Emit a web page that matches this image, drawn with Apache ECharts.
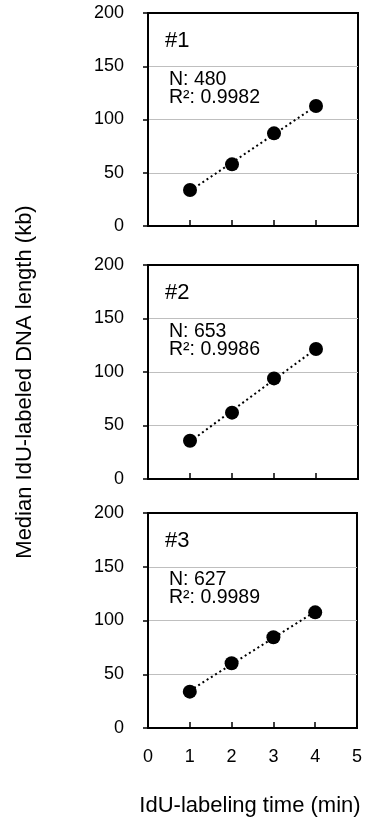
<!DOCTYPE html>
<html>
<head>
<meta charset="utf-8">
<script src="https://cdn.jsdelivr.net/npm/echarts@6/dist/echarts.min.js"></script>
<style>
  html, body { margin: 0; padding: 0; background: #fff; }
  #echarts_container { width: 365px; height: 823px; }
</style>
</head>
<body>
<div id="echarts_container"></div>
<script>
var chartDom = document.getElementById('echarts_container');
var myChart = echarts.init(chartDom);
var option;

// labeling time (min)
let times = [1, 2, 3, 4]
// median lengths (kb)
let exp1 = [33.8, 57.9, 87, 112.7]
let exp2 = [35.8, 62, 94, 121.5]
let exp3 = [33.8, 60.2, 84.4, 107.6]
// dotted trend line ends (x=1 and x=4)
let trendX = [1, 4]
let trend1 = [33, 112.7]
let trend2 = [34.9, 121.7]
let trend3 = [34.7, 108.3]
let panelNames = ['#1', '#2', '#3']
let nText = ['N: 480', 'N: 653', 'N: 627']
let rText = ['R²: 0.9982', 'R²: 0.9986', 'R²: 0.9989']

const FONT = '"Liberation Sans", Arial, sans-serif'
const tops = [13, 265, 513]
const heights = [213, 214, 215]

const pairs = (xs, ys) => xs.map((x, i) => [x, ys[i]])

let grids = [], xAxes = [], yAxes = [], series = [], texts = []
let allData = [exp1, exp2, exp3]
let allTrend = [trend1, trend2, trend3]

tops.forEach((top, i) => {
    grids.push({
        left: 148, width: 210, top: top, height: heights[i],
        show: true, borderColor: '#000', borderWidth: 2, backgroundColor: 'transparent'
    })
    xAxes.push({
        gridIndex: i, type: 'value', min: 0, max: 5, interval: 1,
        axisLine: { show: true, lineStyle: { color: '#000', width: 2 } },
        axisTick: { show: true, inside: true, length: 6, lineStyle: { color: '#000', width: 1.5 } },
        axisLabel: { show: i == 2, color: '#000', fontSize: 18, fontFamily: FONT, margin: 20 },
        splitLine: { show: false }
    })
    yAxes.push({
        gridIndex: i, type: 'value', min: 0, max: 200, interval: 50,
        axisLine: { show: true, lineStyle: { color: '#000', width: 2 } },
        axisTick: { show: true, inside: false, length: 5, lineStyle: { color: '#000', width: 1.5 } },
        axisLabel: { color: '#000', fontSize: 18, fontFamily: FONT, margin: 24 },
        splitLine: { show: true, showMinLine: false, showMaxLine: false, lineStyle: { color: '#bfbfbf', width: 1 } }
    })
    series.push({
        type: 'line', xAxisIndex: i, yAxisIndex: i,
        data: pairs(trendX, allTrend[i]),
        symbol: 'none', z: 2,
        lineStyle: { color: '#000', width: 2, type: [2, 3] }
    })
    series.push({
        type: 'scatter', xAxisIndex: i, yAxisIndex: i,
        data: pairs(times, allData[i]),
        symbol: 'circle', symbolSize: 14, z: 3,
        itemStyle: { color: '#000', opacity: 1 }
    })
    texts.push({
        type: 'text', left: 165, top: top + 17,
        style: { text: panelNames[i], fill: '#000', font: '22px ' + FONT }
    })
    texts.push({
        type: 'text', left: 169, top: top + 57,
        style: { text: nText[i] + '\n' + rText[i], fill: '#000', font: '19.5px ' + FONT, lineHeight: 18 }
    })
})

texts.push({
    type: 'text', x: 25, y: 382, rotation: Math.PI / 2,
    style: { text: 'Median IdU-labeled DNA length (kb)', fill: '#000', font: '22px ' + FONT,
        textAlign: 'center', textVerticalAlign: 'middle' }
})
texts.push({
    type: 'text', x: 250, y: 806,
    style: { text: 'IdU-labeling time (min)', fill: '#000', font: '22px ' + FONT,
        textAlign: 'center', textVerticalAlign: 'middle' }
})

option = {
    backgroundColor: '#fff',
    animation: false,
    grid: grids,
    xAxis: xAxes,
    yAxis: yAxes,
    series: series,
    graphic: texts
};

option && myChart.setOption(option);
</script>
</body>
</html>
